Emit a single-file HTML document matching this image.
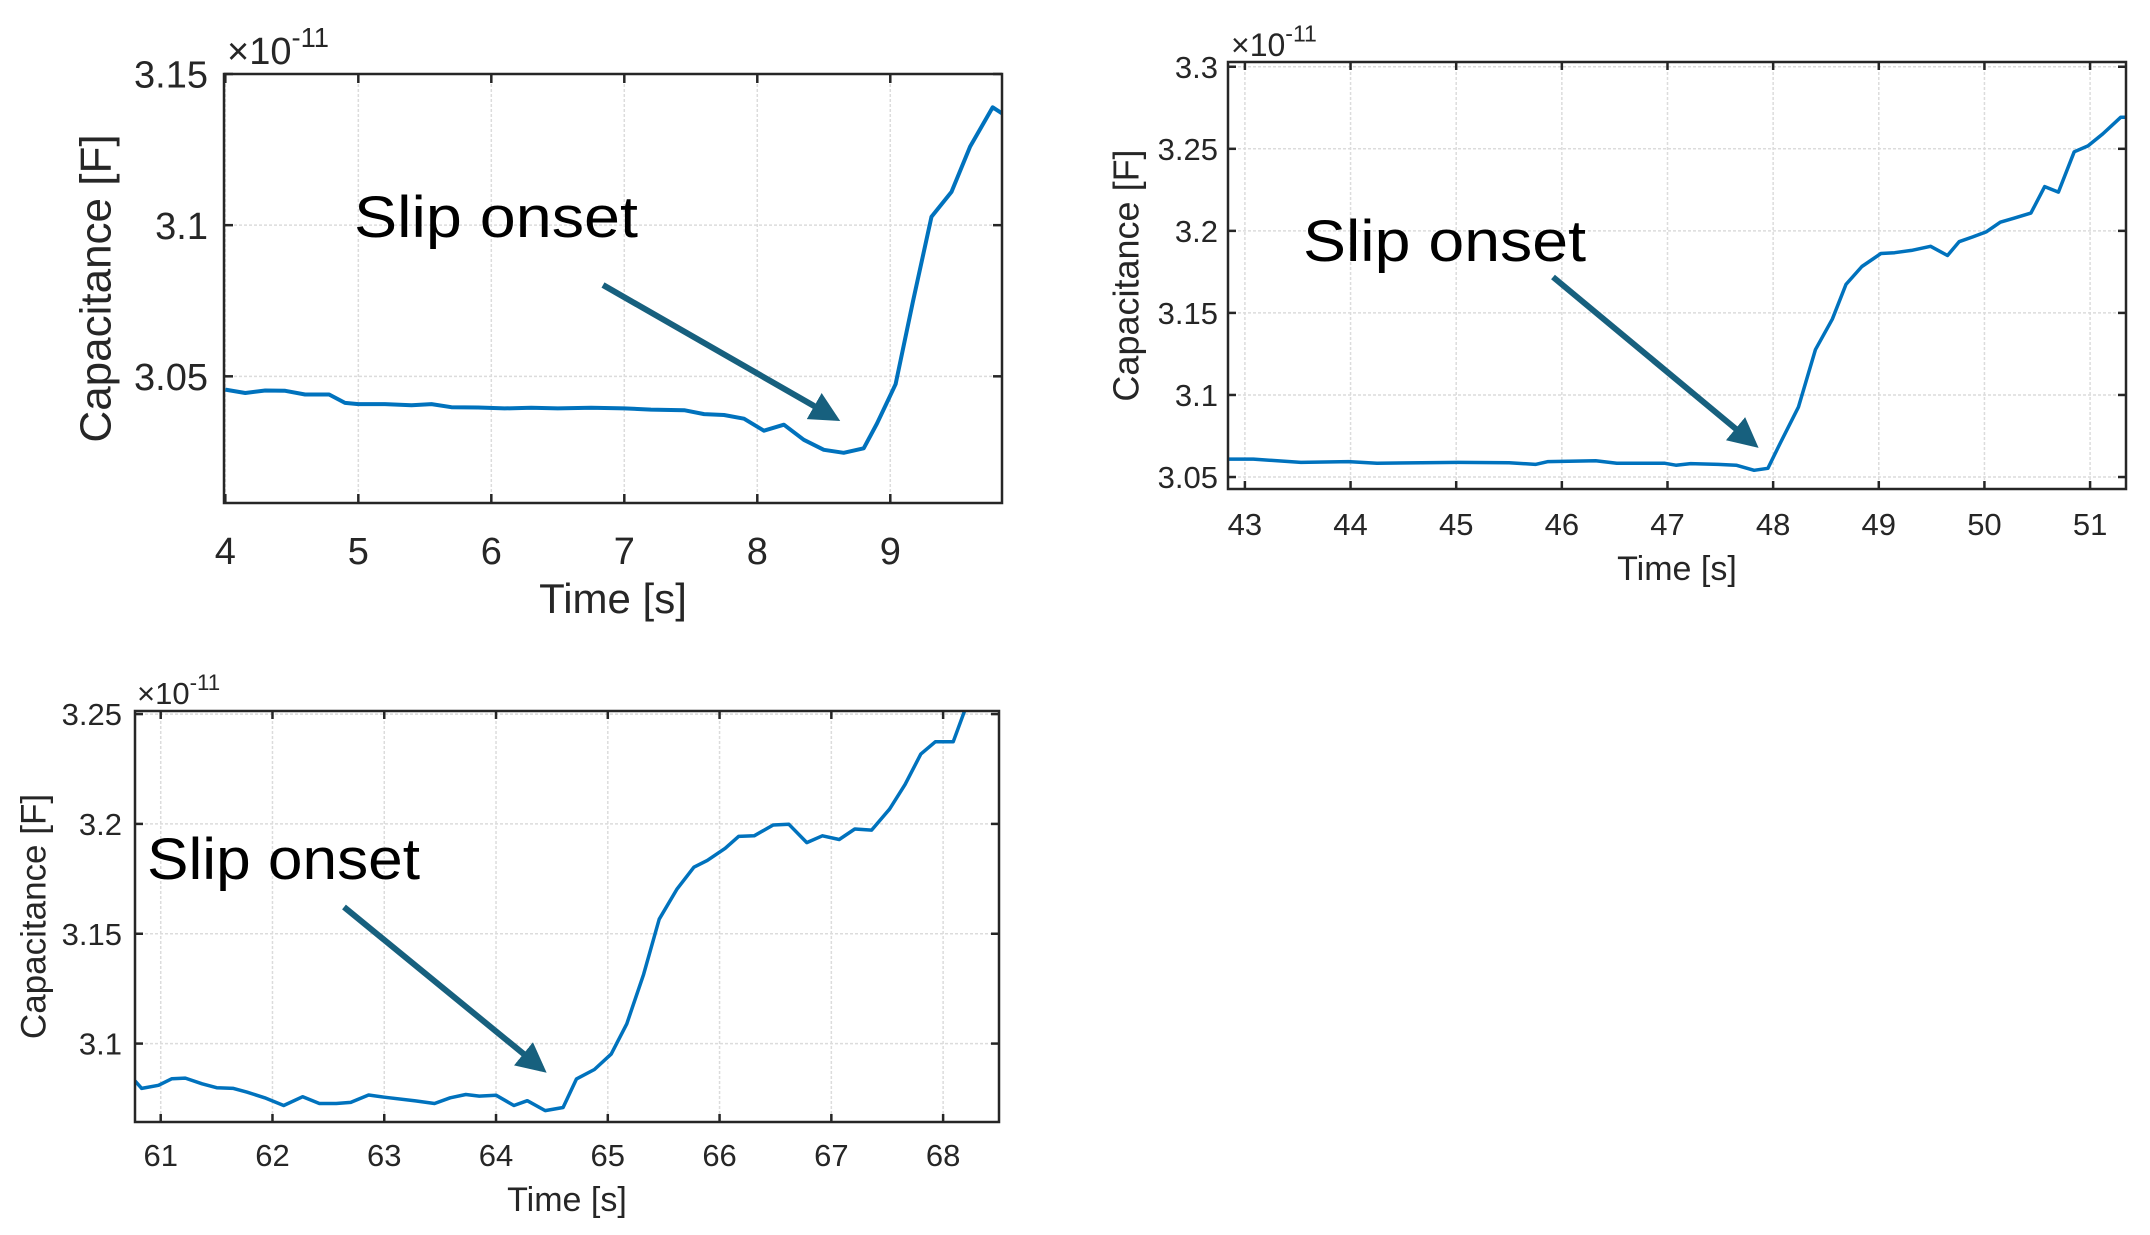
<!DOCTYPE html>
<html><head><meta charset="utf-8"><style>
html,body{margin:0;padding:0;background:#fff;}
svg{display:block;font-family:"Liberation Sans",sans-serif;}
</style></head><body>
<svg id="fig" width="2150" height="1235" viewBox="0 0 2150 1235" xmlns="http://www.w3.org/2000/svg">
<defs>
<marker id="ah" markerWidth="5" markerHeight="5" refX="4" refY="2.5" orient="auto" markerUnits="strokeWidth">
<path d="M0,0 L5,2.5 L0,5 z" fill="#17607e"/>
</marker>
</defs>
</svg>
<script>
// ---- Panel 1 data ----
const p1Times = [4,4.15,4.3,4.45,4.6,4.78,4.9,5.0,5.2,5.4,5.55,5.7,5.9,6.1,6.3,6.5,6.75,7.0,7.2,7.45,7.6,7.75,7.9,8.05,8.2,8.35,8.5,8.65,8.8,8.9,9.04,9.17,9.31,9.46,9.6,9.77,9.85];
const p1Vals = [3.0456,3.0445,3.0453,3.0452,3.0440,3.0440,3.0412,3.0408,3.0408,3.0404,3.0408,3.0398,3.0397,3.0394,3.0396,3.0394,3.0396,3.0394,3.0390,3.0388,3.0375,3.0372,3.0360,3.0320,3.0340,3.0290,3.0257,3.0247,3.0262,3.0344,3.0474,3.0747,3.1028,3.1110,3.1260,3.1390,3.1367];
const p1XTicks = [4,5,6,7,8,9];
const p1YTicks = [3.05,3.1,3.15];
const p1YLabels = ["3.05","3.1","3.15"];
// ---- Panel 2 data ----
const p2Times = [42.84,43.08,43.53,43.98,44.25,45.02,45.5,45.75,45.87,46.32,46.52,46.97,47.08,47.22,47.48,47.65,47.82,47.95,48.07,48.24,48.4,48.56,48.69,48.84,49.02,49.15,49.31,49.49,49.65,49.76,49.89,50.02,50.15,50.28,50.44,50.57,50.7,50.85,50.98,51.12,51.29,51.34];
const p2Vals = [3.0609,3.0609,3.0589,3.0594,3.0584,3.0589,3.0587,3.0577,3.0594,3.0599,3.0584,3.0584,3.0572,3.0582,3.0577,3.0572,3.0541,3.0553,3.0710,3.0927,3.1276,3.1462,3.1674,3.1783,3.1862,3.1867,3.1881,3.1906,3.1850,3.1934,3.1963,3.1995,3.2053,3.2077,3.2108,3.2270,3.2236,3.2482,3.2518,3.2591,3.2692,3.2692];
const p2XTicks = [43,44,45,46,47,48,49,50,51];
const p2YTicks = [3.05,3.1,3.15,3.2,3.25,3.3];
const p2YLabels = ["3.05","3.1","3.15","3.2","3.25","3.3"];
// ---- Panel 3 data ----
const p3Times = [60.77,60.83,60.98,61.1,61.22,61.37,61.5,61.65,61.77,61.93,62.1,62.27,62.42,62.57,62.7,62.86,63.0,63.28,63.45,63.59,63.73,63.85,64.0,64.16,64.28,64.44,64.6,64.72,64.88,65.03,65.17,65.32,65.46,65.62,65.77,65.89,66.05,66.17,66.31,66.48,66.62,66.78,66.92,67.07,67.21,67.36,67.52,67.66,67.8,67.93,68.09,68.2];
const p3Vals = [3.0830,3.0796,3.0810,3.0840,3.0843,3.0817,3.0799,3.0796,3.0779,3.0753,3.0718,3.0758,3.0727,3.0727,3.0732,3.0766,3.0756,3.0739,3.0727,3.0753,3.0768,3.0761,3.0765,3.0718,3.0740,3.0695,3.0709,3.0839,3.0882,3.0952,3.1090,3.1315,3.1566,3.1704,3.1803,3.1834,3.1889,3.1943,3.1946,3.1995,3.1998,3.1915,3.1946,3.1929,3.1977,3.1972,3.2067,3.2180,3.2318,3.2374,3.2374,3.2526];
const p3XTicks = [61,62,63,64,65,66,67,68];
const p3YTicks = [3.1,3.15,3.2,3.25];
const p3YLabels = ["3.1","3.15","3.2","3.25"];

const NS = "http://www.w3.org/2000/svg";
const svg = document.getElementById('fig');
function mk(tag, attrs, parent, text){
  const e = document.createElementNS(NS, tag);
  for (const k in attrs) e.setAttribute(k, attrs[k]);
  if (text !== undefined) e.textContent = text;
  (parent||svg).appendChild(e);
  return e;
}

function panel(cfg){
  const g = mk('g', {});
  
  
  const L=cfg.L,R=cfg.R,T=cfg.T,B=cfg.B;
  const sx = v => L + (v-cfg.xmin)/(cfg.xmax-cfg.xmin)*(R-L);
  const sy = v => B - (v-cfg.ymin)/(cfg.ymax-cfg.ymin)*(B-T);
  cfg.xt.forEach(t=>{
    const x=sx(t);
    const gl = mk('line',{x1:x,x2:x,y1:T,y2:B,stroke:'#dcdcdc','stroke-width':1.5,'stroke-dasharray':'3,2'},g);
    
    
  });
  cfg.yt.forEach(t=>{
    const y=sy(t);
    const gl = mk('line',{x1:L,x2:R,y1:y,y2:y,stroke:'#dcdcdc','stroke-width':1.5,'stroke-dasharray':'3,2'},g);
    
    
  });
  const pts = cfg.tx.map((t,i)=>sx(t).toFixed(1)+','+sy(cfg.vy[i]).toFixed(1)).join(' ');
  const cp = 'clip-'+cfg.name;
  const c = mk('clipPath',{id:cp},g); mk('rect',{x:L,y:T,width:R-L,height:B-T},c);
  const ln = mk('polyline',{points:pts,fill:'none',stroke:'#0072bd','stroke-width':cfg.lw,'stroke-linejoin':'round','clip-path':'url(#'+cp+')'},g);
  
  
  const bx = mk('rect',{x:L,y:T,width:R-L,height:B-T,fill:'none',stroke:'#262626','stroke-width':2.5},g);
  
  
  const tl = cfg.tick;
  cfg.xt.forEach(t=>{
    const x=sx(t);
    mk('line',{x1:x,x2:x,y1:B,y2:B-tl,stroke:'#262626','stroke-width':2.5},g);
    mk('line',{x1:x,x2:x,y1:T,y2:T+tl,stroke:'#262626','stroke-width':2.5},g);
    const lb = mk('text',{x:x,y:cfg.xtY,'text-anchor':'middle','font-size':cfg.tf,fill:'#262626'},g,String(t));
    
    
  });
  cfg.yt.forEach((t,i)=>{
    const y=sy(t);
    mk('line',{x1:L,x2:L+tl,y1:y,y2:y,stroke:'#262626','stroke-width':2.5},g);
    mk('line',{x1:R,x2:R-tl,y1:y,y2:y,stroke:'#262626','stroke-width':2.5},g);
    const lb = mk('text',{x:cfg.ytX,y:y+cfg.tf*0.36,'text-anchor':'end','font-size':cfg.tf,fill:'#262626'},g,cfg.yl[i]);
    
    
  });
  const ex = mk('text',{x:cfg.exX,y:cfg.exY,'font-size':cfg.ef,fill:'#262626'},g);
  
  
  mk('tspan',{},ex,'×10');
  mk('tspan',{dy:-cfg.ef*0.45,'font-size':cfg.ef*0.72},ex,'-11');
  const xl = mk('text',{x:(L+R)/2,y:cfg.xlY,'text-anchor':'middle','font-size':cfg.lf,fill:'#262626'},g,'Time [s]');
  
  
  const yc=(T+B)/2;
  const yl = mk('text',{x:cfg.ylX,y:yc,'text-anchor':'middle','font-size':cfg.ylf,fill:'#262626',transform:'rotate(-90 '+cfg.ylX+' '+yc+')','dominant-baseline':'central'},g,'Capacitance [F]');
  
  
  const an = mk('text',{x:cfg.sX,y:cfg.sY,'font-size':58,fill:'#000',textLength:cfg.sW,lengthAdjust:'spacingAndGlyphs'},g,'Slip onset');
  
  
  const ar = mk('line',{x1:cfg.a[0],y1:cfg.a[1],x2:cfg.a[2],y2:cfg.a[3],stroke:'#17607e','stroke-width':6,'marker-end':'url(#ah)'},g);
  
  
}

panel({name:'panel-top-left',L:224,R:1002,T:74,B:503,xmin:3.99,xmax:9.84,ymin:3.0081,ymax:3.15,
  tx:p1Times,vy:p1Vals,xt:p1XTicks,yt:p1YTicks,yl:p1YLabels,lw:4,tick:9,tf:38,lf:42,ylf:44,ef:38,
  xtY:564,ytX:208,exX:227,exY:64,xlY:613,ylX:96,sX:354,sY:237,sW:284,a:[603,285,835,418]});
panel({name:'panel-top-right',L:1228,R:2126,T:62,B:489,xmin:42.84,xmax:51.34,ymin:3.0427,ymax:3.3029,
  tx:p2Times,vy:p2Vals,xt:p2XTicks,yt:p2YTicks,yl:p2YLabels,lw:3.5,tick:8,tf:31,lf:34,ylf:36,ef:32,
  xtY:535,ytX:1218,exX:1231,exY:56,xlY:580,ylX:1126,sX:1303,sY:261,sW:283,a:[1553,277,1754,444]});
panel({name:'panel-bottom-left',L:135,R:999,T:711,B:1122,xmin:60.77,xmax:68.5,ymin:3.0643,ymax:3.2514,
  tx:p3Times,vy:p3Vals,xt:p3XTicks,yt:p3YTicks,yl:p3YLabels,lw:3.5,tick:8,tf:31,lf:34,ylf:35,ef:31,
  xtY:1166,ytX:122,exX:137,exY:704,xlY:1211,ylX:34,sX:147,sY:879,sW:273,a:[344,907,542,1069]});
</script>
</body></html>
